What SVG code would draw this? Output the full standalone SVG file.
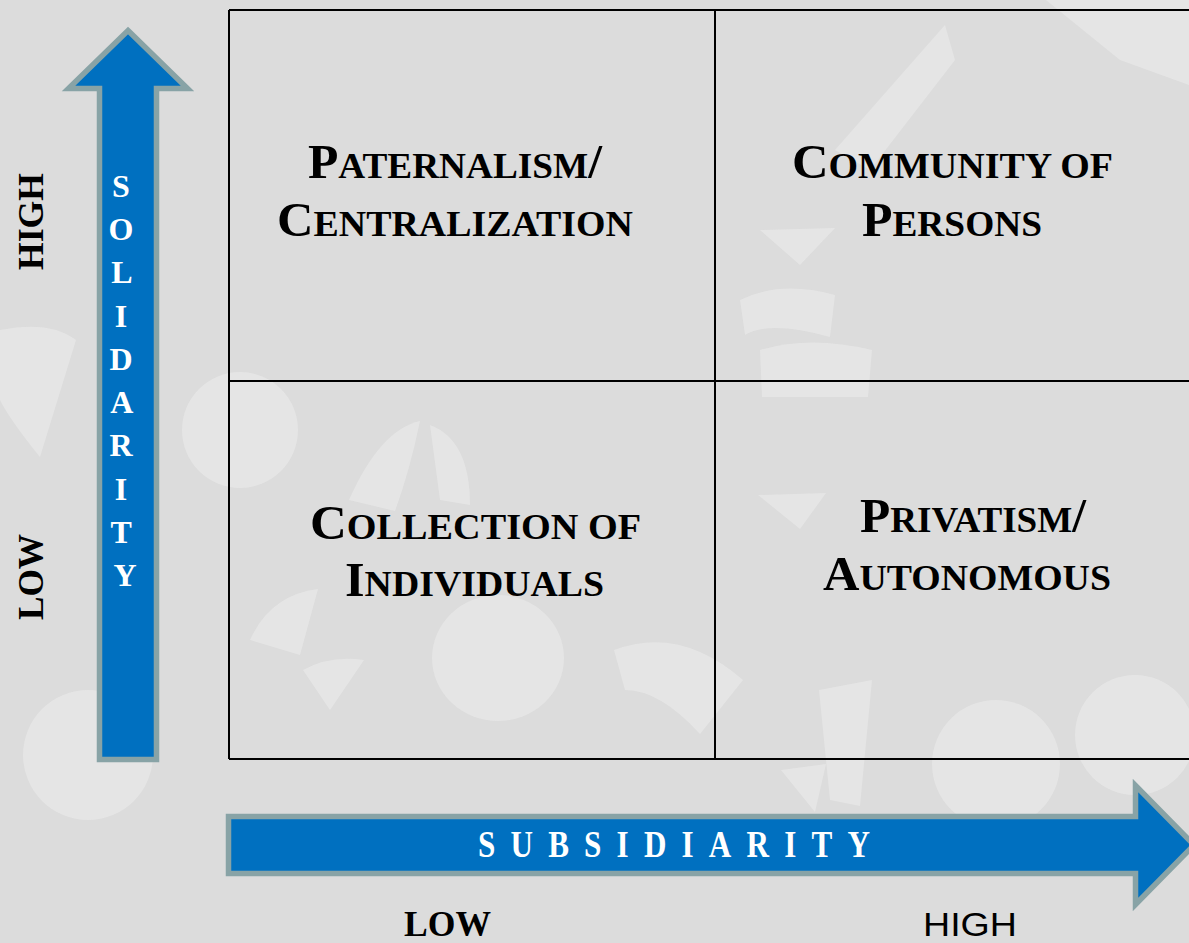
<svg xmlns="http://www.w3.org/2000/svg" width="1189" height="943" viewBox="0 0 1189 943">
  <style>
    .bg { fill: #dcdcdc; }
    .deco { fill: #f4f4f4; opacity: 0.38; }
    .grid { fill: none; stroke: #000; stroke-width: 2; }
    .arrow { fill: #0070c0; stroke: #88a3a6; stroke-width: 5.5; stroke-linejoin: miter; }
    .quad { font-family: "Liberation Serif", "Times New Roman", serif; font-weight: bold; font-size: 36px; fill: #000; }
    .cap { font-size: 48px; }
    .axis { font-family: "Liberation Serif", "Times New Roman", serif; font-weight: bold; fill: #fff; }
    .lvl { font-family: "Liberation Serif", "Times New Roman", serif; font-weight: bold; font-size: 36px; fill: #000; }
    .lvl-sans { font-family: "Liberation Sans", Arial, sans-serif; font-size: 34px; fill: #000; }
  </style>

  <!-- backdrop -->
  <rect class="bg" x="0" y="0" width="1189" height="943"/>

  <!-- faint decorative fragments behind the chart -->
  <g id="decoration">
    <path class="deco" d="M1046,0 H1189 V85 L1120,60 Z"/>
    <path class="deco" d="M945,25 L835,150 L870,170 L955,60 Z"/>
    <path class="deco" d="M740,300 Q780,280 835,295 L830,337 Q770,320 745,335 Z"/>
    <path class="deco" d="M760,350 Q810,335 872,350 L868,397 L762,397 Z"/>
    <path class="deco" d="M760,230 L835,228 L800,265 Z"/>
    <path class="deco" d="M0,330 Q50,320 76,340 L40,457 Q10,420 0,400 Z"/>
    <circle class="deco" cx="240" cy="430" r="58"/>
    <circle class="deco" cx="88" cy="755" r="65"/>
    <ellipse class="deco" cx="498" cy="658" rx="66" ry="63"/>
    <path class="deco" d="M250,640 Q270,595 318,589 L300,655 Z"/>
    <path class="deco" d="M303,670 Q330,655 364,660 L330,710 Z"/>
    <path class="deco" d="M349,500 Q380,430 420,421 Q410,470 395,511 Z"/>
    <path class="deco" d="M430,425 Q470,440 470,505 L440,500 Z"/>
    <path class="deco" d="M614,650 Q680,625 743,680 L700,734 Q660,690 625,690 Z"/>
    <path class="deco" d="M758,495 L826,493 L800,529 Z"/>
    <path class="deco" d="M819,690 L872,680 L860,806 L830,800 Z"/>
    <circle class="deco" cx="996" cy="764" r="64"/>
    <circle class="deco" cx="1135" cy="735" r="60"/>
    <path class="deco" d="M781,770 L826,764 L815,812 Z"/>
  </g>

  <!-- 2x2 grid -->
  <g id="grid">
    <path class="grid" d="M229,10 H1189 M229,10 V759 M229,759 H1189 M715,10 V759 M229,381 H1189"/>
  </g>

  <!-- quadrant labels (large initial + small capitals) -->
  <g id="q-paternalism">
    <text class="quad" x="308" y="178" textLength="294" lengthAdjust="spacingAndGlyphs"><tspan class="cap">P</tspan>ATERNALISM<tspan class="cap">/</tspan></text>
    <text class="quad" x="277" y="236" textLength="356" lengthAdjust="spacingAndGlyphs"><tspan class="cap">C</tspan>ENTRALIZATION</text>
  </g>
  <g id="q-community">
    <text class="quad" x="792" y="178" textLength="321" lengthAdjust="spacingAndGlyphs"><tspan class="cap">C</tspan>OMMUNITY OF</text>
    <text class="quad" x="862" y="236" textLength="180" lengthAdjust="spacingAndGlyphs"><tspan class="cap">P</tspan>ERSONS</text>
  </g>
  <g id="q-collection">
    <text class="quad" x="310" y="539" textLength="331" lengthAdjust="spacingAndGlyphs"><tspan class="cap">C</tspan>OLLECTION OF</text>
    <text class="quad" x="345" y="596" textLength="259" lengthAdjust="spacingAndGlyphs"><tspan class="cap">I</tspan>NDIVIDUALS</text>
  </g>
  <g id="q-privatism">
    <text class="quad" x="860" y="532" textLength="226" lengthAdjust="spacingAndGlyphs"><tspan class="cap">P</tspan>RIVATISM<tspan class="cap">/</tspan></text>
    <text class="quad" x="823" y="590" textLength="288" lengthAdjust="spacingAndGlyphs"><tspan class="cap">A</tspan>UTONOMOUS</text>
  </g>

  <!-- axis arrows -->
  <g id="connectors">
    <path id="solidarity-arrow" class="arrow" d="M128,30.5 L187.5,88.5 H156.5 V759.5 H99.5 V88.5 H68.5 Z"/>
    <path id="subsidiarity-arrow" class="arrow" d="M228.5,816.5 H1135.5 V785.5 L1194,845 L1135.5,904.5 V873.5 H228.5 Z"/>
  </g>

  <g id="solidarity-label">
    <text class="axis" font-size="32" text-anchor="middle">
      <tspan x="125" y="197">S</tspan>
      <tspan x="125" y="240">O</tspan>
      <tspan x="125" y="283">L</tspan>
      <tspan x="125" y="327">I</tspan>
      <tspan x="125" y="370">D</tspan>
      <tspan x="125" y="413">A</tspan>
      <tspan x="125" y="456">R</tspan>
      <tspan x="125" y="500">I</tspan>
      <tspan x="125" y="543">T</tspan>
      <tspan x="125" y="586">Y</tspan>
    </text>
  </g>

  <g id="subsidiarity-label">
    <text class="axis" font-size="38" transform="translate(478,857) scale(0.82,1)" x="0" y="0" textLength="478" lengthAdjust="spacing">SUBSIDIARITY</text>
  </g>

  <!-- level markers -->
  <g id="solidarity-levels">
    <text class="lvl" transform="translate(43,270) rotate(-90)" x="0" y="0" textLength="97" lengthAdjust="spacingAndGlyphs">HIGH</text>
    <text class="lvl" transform="translate(43,620) rotate(-90)" x="0" y="0" textLength="86" lengthAdjust="spacingAndGlyphs">LOW</text>
  </g>
  <g id="subsidiarity-levels">
    <text class="lvl" x="404" y="936" textLength="87" lengthAdjust="spacingAndGlyphs">LOW</text>
    <text class="lvl-sans" x="923" y="936" textLength="94" lengthAdjust="spacingAndGlyphs">HIGH</text>
  </g>
</svg>
